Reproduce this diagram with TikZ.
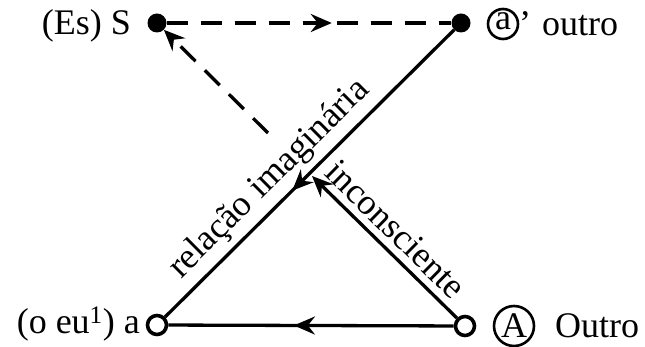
\documentclass[tikz,border=0pt]{standalone}
\usepackage{fontspec}
\setmainfont{Liberation Serif}
\usetikzlibrary{arrows.meta,decorations.markings}
\begin{document}
\begin{tikzpicture}[x=1pt,y=-1pt,
  >={Stealth[length=21pt,width=18pt,inset=7pt]},
  every node/.style={font=\fontsize{36}{42}\selectfont},
  dot/.style={circle,fill=black,inner sep=0pt,minimum size=19pt},
  hole/.style={circle,draw=black,line width=3.6pt,fill=white,inner sep=0pt,minimum size=19pt},
  ring/.style={circle,draw=black,line width=2.6pt,inner sep=0pt},
  link/.style={line width=3.3pt},
  dashedlink/.style={line width=3.3pt,dash pattern=on 21pt off 13pt},
  midarrow/.style={postaction={decorate},decoration={markings,mark=at position #1 with {\arrow[line width=3.3pt]{>}}}}
]
\useasboundingbox (0,0) rectangle (645,347);
% points
\node[dot]  (S)  at (157,23) {};
\node[dot]  (ap) at (461,23) {};
\node[hole] (a)  at (157,325) {};
\node[hole] (A)  at (465,326) {};
\coordinate (inc) at (312,176);
\coordinate (ds) at (268,133);
% connectors
\draw[dashedlink,midarrow=0.58] (S) -- (ap);
\draw[link,midarrow=0.56] (ap) -- (a);
\draw[link,midarrow=0.56] (A) -- (a);
\draw[link,->] (A) -- (inc);
\draw[dashedlink,->] (ds) -- (S);
% labels on lines
\path (a) -- (ap) node[pos=0.42,above=4pt,sloped] (rel) {relação imaginária};
\path (inc) -- (A) node[pos=0.48,above=5pt,sloped] (inco) {inconsciente};
% point labels
\node[anchor=base east,inner sep=0pt] (Slab) at (131,35) {(Es) S};
\node[anchor=base east,inner sep=0pt] (alab) at (140,333) {(o eu\textsuperscript{1}) a};
\node[ring,minimum size=30pt] (aring) at (503,24) {};
\node[inner sep=0pt] (aletter) at (503,21) {a};
\node[anchor=base west,inner sep=0pt] (apos) at (519,36) {’};
\node[anchor=base west,inner sep=0pt] (outro) at (542,36) {outro};
\node[ring,minimum size=40pt] (Aring) at (514,326) {};
\node[inner sep=0pt] (Aletter) at (514,326) {A};
\node[anchor=base west,inner sep=0pt] (Outro) at (555,337) {Outro};
\end{tikzpicture}
\end{document}
